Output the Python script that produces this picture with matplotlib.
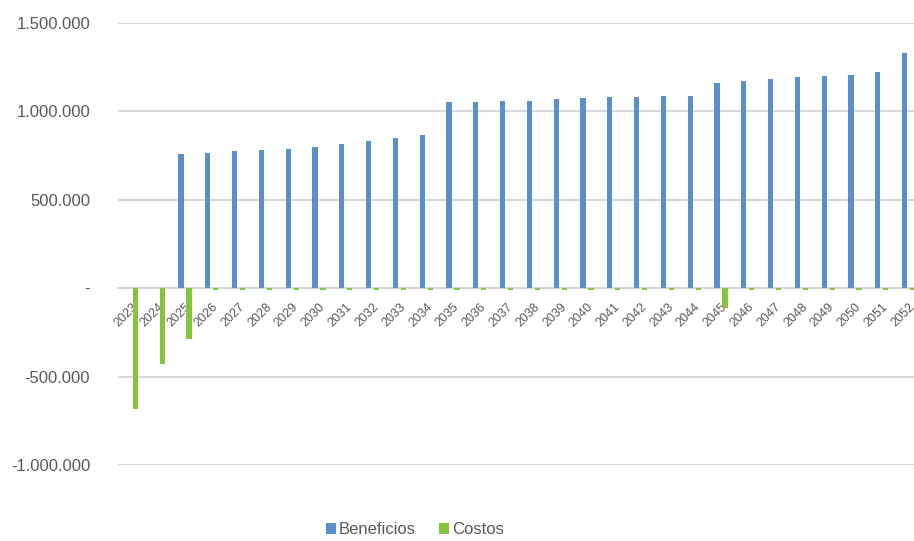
import numpy as np
import matplotlib
matplotlib.use('Agg')
import matplotlib.pyplot as plt
from matplotlib.ticker import FuncFormatter, MultipleLocator

# data
years = list(range(2023, 2053))
beneficios = [0, 0, 761000, 767000, 774000, 781000, 787000, 801000, 816000, 831000,
              849000, 868000, 1051000, 1051000, 1059000, 1059000, 1068000, 1077000, 1079000, 1083000,
              1086000, 1086000, 1160000, 1173000, 1182000, 1195000, 1198000, 1205000, 1224000, 1331000]
costos = [-685000, -429000, -289000, -8000, -8000, -8000, -8000, -8000, -8000, -8000,
          -8000, -8000, -8000, -8000, -8000, -8000, -8000, -8000, -8000, -8000,
          -8000, -8000, -112000, -8000, -8000, -8000, -8000, -8000, -8000, -8000]

blue = '#5a8fcc'
green = '#86c440'
grey_txt = '#595959'
grid_col = '#d9d9d9'

plt.rcParams['font.family'] = ['Liberation Sans', 'DejaVu Sans']

fig = plt.figure(figsize=(9.14, 5.41), dpi=100)
# plot area runs slightly past the right edge, like the cropped reference
ax = fig.add_axes([118 / 914, 76 / 541, 804 / 914, 442 / 541])

x = np.arange(len(years))
w = 0.19
ax.bar(x - 0.15, beneficios, width=w, color=blue, label='Beneficios', zorder=3)
ax.bar(x + 0.15, costos, width=w, color=green, label='Costos', zorder=3)

ax.set_xlim(-0.5, len(years) - 0.5)
ax.set_ylim(-1000000, 1500000)
ax.yaxis.set_major_locator(MultipleLocator(500000))


def fmt(v, pos):
    if abs(v) < 1:
        return '-'
    return f'{v:,.0f}'.replace(',', '.')


ax.yaxis.set_major_formatter(FuncFormatter(fmt))
ax.grid(axis='y', color=grid_col, linewidth=1.5, zorder=0)
ax.set_axisbelow(True)

for s in ['top', 'right', 'left']:
    ax.spines[s].set_visible(False)
ax.spines['bottom'].set_position(('data', 0))
ax.spines['bottom'].set_color(grid_col)
ax.spines['bottom'].set_linewidth(1.5)

ax.set_xticks(x)
ax.set_xticklabels([str(y) for y in years], rotation=45, ha='right',
                   va='top', rotation_mode='anchor')
ax.tick_params(axis='x', length=0, pad=9, labelsize=9, labelcolor=grey_txt)
ax.tick_params(axis='y', length=0, pad=20, labelsize=12, labelcolor=grey_txt)

fig.legend(loc='center', bbox_to_anchor=(415 / 914, 1 - 530 / 541), ncol=2,
           frameon=False, fontsize=12, handlelength=0.6, handleheight=0.6,
           handletextpad=0.2, columnspacing=1.4, labelcolor=grey_txt)

fig.savefig('out.png', dpi=100)
